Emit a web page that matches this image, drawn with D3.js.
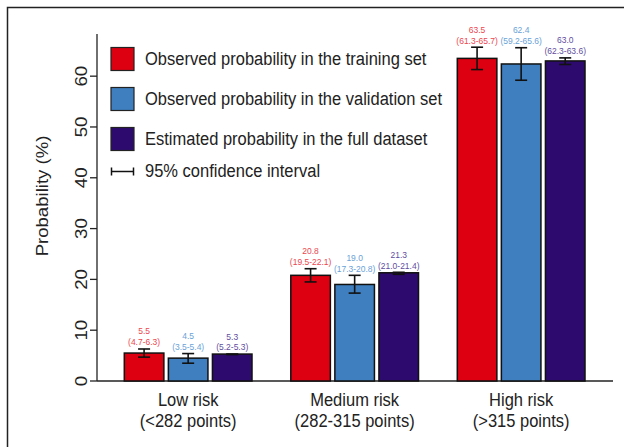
<!DOCTYPE html>
<html><head><meta charset="utf-8">
<script src="https://cdn.jsdelivr.net/npm/d3@7"></script>
<style>
html,body{margin:0;padding:0;background:#fff;}
svg{display:block;font-family:"Liberation Sans",Arial,Helvetica,sans-serif;}
</style></head>
<body>
<svg id="chart" width="624" height="447"></svg>
<script>
const groups = ["Low risk", "Medium risk", "High risk"];
const groupSub = ["(<282 points)", "(282-315 points)", "(>315 points)"];
const seriesNames = ["Observed probability in the training set",
                     "Observed probability in the validation set",
                     "Estimated probability in the full dataset"];
const trainValues = [5.5, 20.8, 63.5];
const trainLower  = [4.7, 19.5, 61.3];
const trainUpper  = [6.3, 22.1, 65.7];
const validValues = [4.5, 19.0, 62.4];
const validLower  = [3.5, 17.3, 59.2];
const validUpper  = [5.4, 20.8, 65.6];
const fullValues  = [5.3, 21.3, 63.0];
const fullLower   = [5.2, 21.0, 62.3];
const fullUpper   = [5.3, 21.4, 63.6];
const yTicks = [0, 10, 20, 30, 40, 50, 60];
const ciLegend = "95% confidence interval";
const yTitle = "Probability (%)";

const fills = ["#DC0010", "#3F7FBF", "#2D0A6E"];
const textCols = ["#EC4650", "#6AA2D8", "#5F4E9F"];

const series = [
  {v: trainValues, lo: trainLower, hi: trainUpper},
  {v: validValues, lo: validLower, hi: validUpper},
  {v: fullValues,  lo: fullLower,  hi: fullUpper}
];

const svg = d3.select("#chart");

// horizontal text with slight vertical stretch (matches reference rendering)
function htext(parent, x, yy, txt, size, fill, anchor, sy) {
  return parent.append("text").attr("transform", `translate(${x},${yy}) scale(1,${sy})`)
    .attr("text-anchor", anchor).attr("dominant-baseline", "central")
    .attr("font-size", size).attr("fill", fill).text(txt);
}
function vtext(parent, x, yy, txt, size, fill, sx) {
  return parent.append("text").attr("transform", `translate(${x},${yy}) rotate(-90) scale(${sx},1)`)
    .attr("text-anchor", "middle").attr("dominant-baseline", "central")
    .attr("font-size", size).attr("fill", fill).text(txt);
}

// outer frame
svg.append("rect").attr("x", 7.5).attr("y", 7.5).attr("width", 640).attr("height", 460)
  .attr("fill", "none").attr("stroke", "#222").attr("stroke-width", 1.5);

const y = d3.scaleLinear().domain([0, 68.3]).range([381, 34]);
const x0 = d3.scaleBand().domain(groups).range([104.9, 604.4]).paddingInner(0.233).paddingOuter(0.1165);
const x1 = d3.scaleBand().domain([0, 1, 2]).range([0, x0.bandwidth()]).paddingInner(0.102).paddingOuter(0);

// axes lines
svg.append("line").attr("x1", 97).attr("x2", 97).attr("y1", y(68.3)).attr("y2", y(0))
  .attr("stroke", "#222").attr("stroke-width", 1.3);
svg.append("line").attr("x1", 97).attr("x2", 613).attr("y1", y(0)).attr("y2", y(0))
  .attr("stroke", "#222").attr("stroke-width", 1.3);

// y ticks
const yAxis = svg.append("g");
yTicks.forEach(t => {
  yAxis.append("line").attr("x1", 90).attr("x2", 97).attr("y1", y(t)).attr("y2", y(t))
    .attr("stroke", "#222").attr("stroke-width", 1.3);
  vtext(yAxis, 81, y(t), t, 17, "#222", 1.1);
});
vtext(svg, 42.5, 196, yTitle, 17.2, "#222", 1.08);

// bars
groups.forEach((g, gi) => {
  series.forEach((s, si) => {
    const bx = x0(g) + x1(si);
    const bw = x1.bandwidth();
    const cx = bx + bw / 2;
    svg.append("rect").attr("x", bx).attr("y", y(s.v[gi])).attr("width", bw)
      .attr("height", y(0) - y(s.v[gi])).attr("fill", fills[si])
      .attr("stroke", "#111").attr("stroke-width", 1.5);
    // error bar
    const eg = svg.append("g").attr("stroke", "#111").attr("stroke-width", 1.6);
    eg.append("line").attr("x1", cx).attr("x2", cx).attr("y1", y(s.lo[gi])).attr("y2", y(s.hi[gi]));
    eg.append("line").attr("x1", cx - 6).attr("x2", cx + 6).attr("y1", y(s.lo[gi])).attr("y2", y(s.lo[gi]));
    eg.append("line").attr("x1", cx - 6).attr("x2", cx + 6).attr("y1", y(s.hi[gi])).attr("y2", y(s.hi[gi]));
    // labels
    const ly = y(Math.max(s.hi[gi], s.v[gi])) - 6.8;
    htext(svg, cx, ly, `(${s.lo[gi].toFixed(1)}-${s.hi[gi].toFixed(1)})`, 8.5, textCols[si], "middle", 1.15);
    htext(svg, cx, ly - 10.9, s.v[gi].toFixed(1), 8.5, textCols[si], "middle", 1.15);
  });
  const gc = x0(g) + x0.bandwidth() / 2;
  htext(svg, gc, 400, g, 16.5, "#222", "middle", 1.07);
  htext(svg, gc, 421.5, groupSub[gi], 16.5, "#222", "middle", 1.07);
});

// legend
const leg = svg.append("g");
seriesNames.forEach((n, i) => {
  const ry = 47.5 + i * 40;
  leg.append("rect").attr("x", 111).attr("y", ry).attr("width", 23).attr("height", 23)
    .attr("fill", fills[i]).attr("stroke", "#222").attr("stroke-width", 1.2);
  htext(leg, 145, ry + 12, n, 16.5, "#222", "start", 1.07);
});
const ciy = 171.5;
leg.append("line").attr("x1", 111).attr("x2", 134).attr("y1", ciy).attr("y2", ciy).attr("stroke", "#111").attr("stroke-width", 1.5);
leg.append("line").attr("x1", 111.5).attr("x2", 111.5).attr("y1", ciy - 4).attr("y2", ciy + 4).attr("stroke", "#111").attr("stroke-width", 1.5);
leg.append("line").attr("x1", 133.5).attr("x2", 133.5).attr("y1", ciy - 4).attr("y2", ciy + 4).attr("stroke", "#111").attr("stroke-width", 1.5);
htext(leg, 145, ciy, ciLegend, 16.5, "#222", "start", 1.07);
</script>
</body></html>
